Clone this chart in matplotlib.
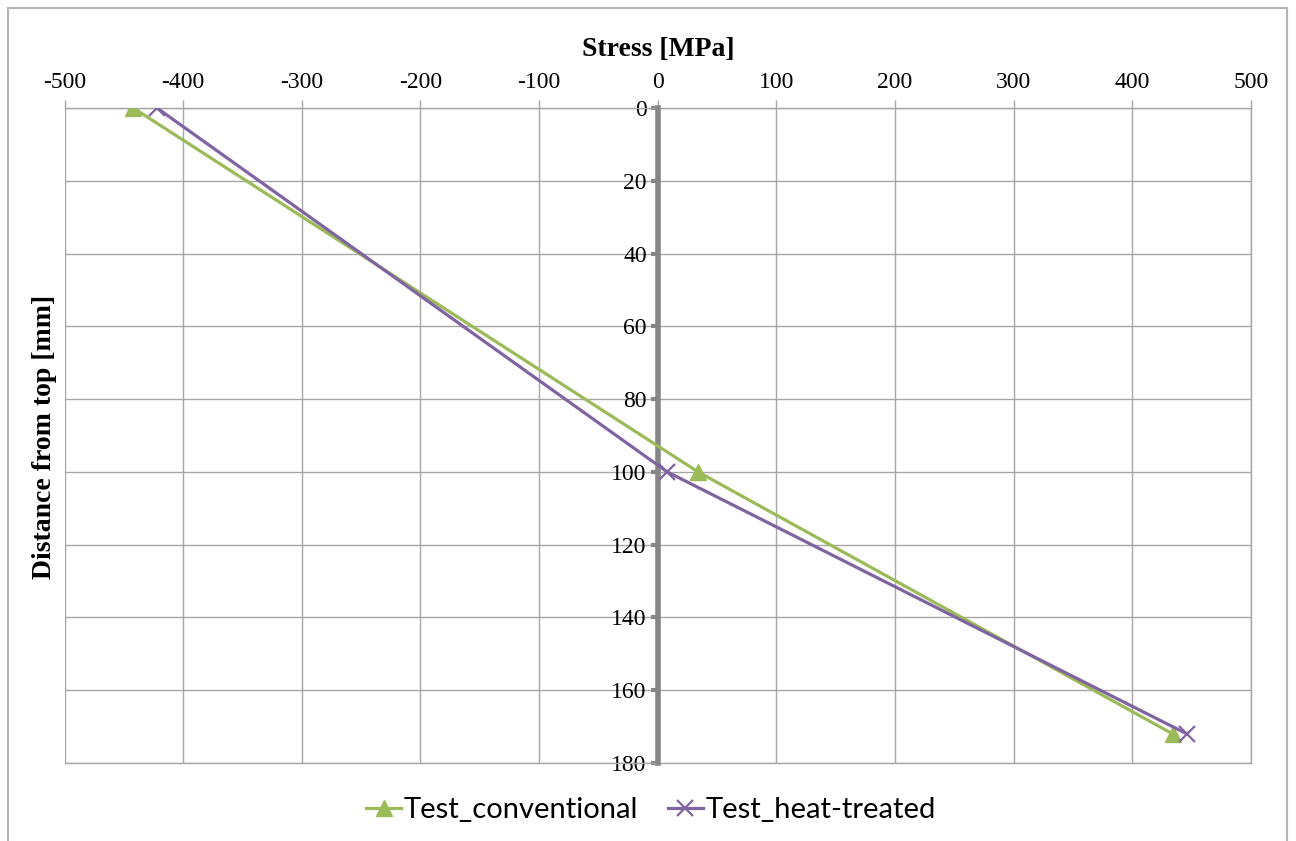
import matplotlib.pyplot as plt
from matplotlib.patches import Rectangle

# stress profile through the depth
depth_mm = [0, 100, 172]
stress_conventional = [-442, 34, 434]
stress_heat_treated = [-422, 8, 446]

x_ticks = list(range(-500, 501, 100))
y_ticks = list(range(0, 181, 20))

GREEN = "#9BBB59"
PURPLE = "#8064A2"
GRID = "#A6A6A6"
AXIS = "#868686"

plt.rcParams["font.family"] = "Liberation Serif"
plt.rcParams["axes.unicode_minus"] = False

fig = plt.figure(figsize=(12.96, 8.41), dpi=100)
fig.patches.append(Rectangle((8 / 1296, -0.05), 1279 / 1296, 1.05 - 8 / 841,
                             transform=fig.transFigure, fill=False,
                             edgecolor="#B4B4B4", linewidth=1.5))

ax = fig.add_axes([64.5 / 1296, 1 - 763 / 841, (1251 - 64.5) / 1296, (763 - 108) / 841])

ax.plot(stress_conventional, depth_mm, color=GREEN, linewidth=2.3,
        marker="^", markersize=11, label="Test_conventional", zorder=4)
ax.plot(stress_heat_treated, depth_mm, color=PURPLE, linewidth=2.3,
        marker="x", markersize=11, markeredgewidth=1.6, label="Test_heat-treated", zorder=5)

ax.set_xlim(-500, 500)
ax.set_ylim(180, 0)
ax.set_xticks(x_ticks)
ax.set_yticks(y_ticks)

ax.xaxis.tick_top()
ax.xaxis.set_label_position("top")
ax.grid(True, color=GRID, linewidth=1.0)
ax.set_axisbelow(True)

for side in ("top", "right", "bottom"):
    ax.spines[side].set_color(GRID)
    ax.spines[side].set_linewidth(1.0)
ax.spines["left"].set_position(("data", 0))
ax.spines["left"].set_color(AXIS)
ax.spines["left"].set_linewidth(4)
ax.spines["left"].set_zorder(3)

ax.tick_params(axis="x", direction="out", length=6, width=1, color=GRID,
               pad=5, labelsize=17)
ax.tick_params(axis="y", direction="out", length=5, width=3, color=AXIS,
               pad=3, labelsize=17)

ax.set_xlabel("Stress [MPa]", fontsize=20, fontweight="bold", labelpad=11)
fig.text(45 / 1296, 1 - 437 / 841, "Distance from top [mm]", rotation=90,
         ha="center", va="center", fontsize=20, fontweight="bold")

fig.legend(loc="center", bbox_to_anchor=(651 / 1296, 1 - 810 / 841), ncol=2,
           frameon=False, prop={"family": "Lato", "size": 21},
           handlelength=1.2, handletextpad=0.1, columnspacing=1.0)

fig.savefig("out.png", dpi=100)
